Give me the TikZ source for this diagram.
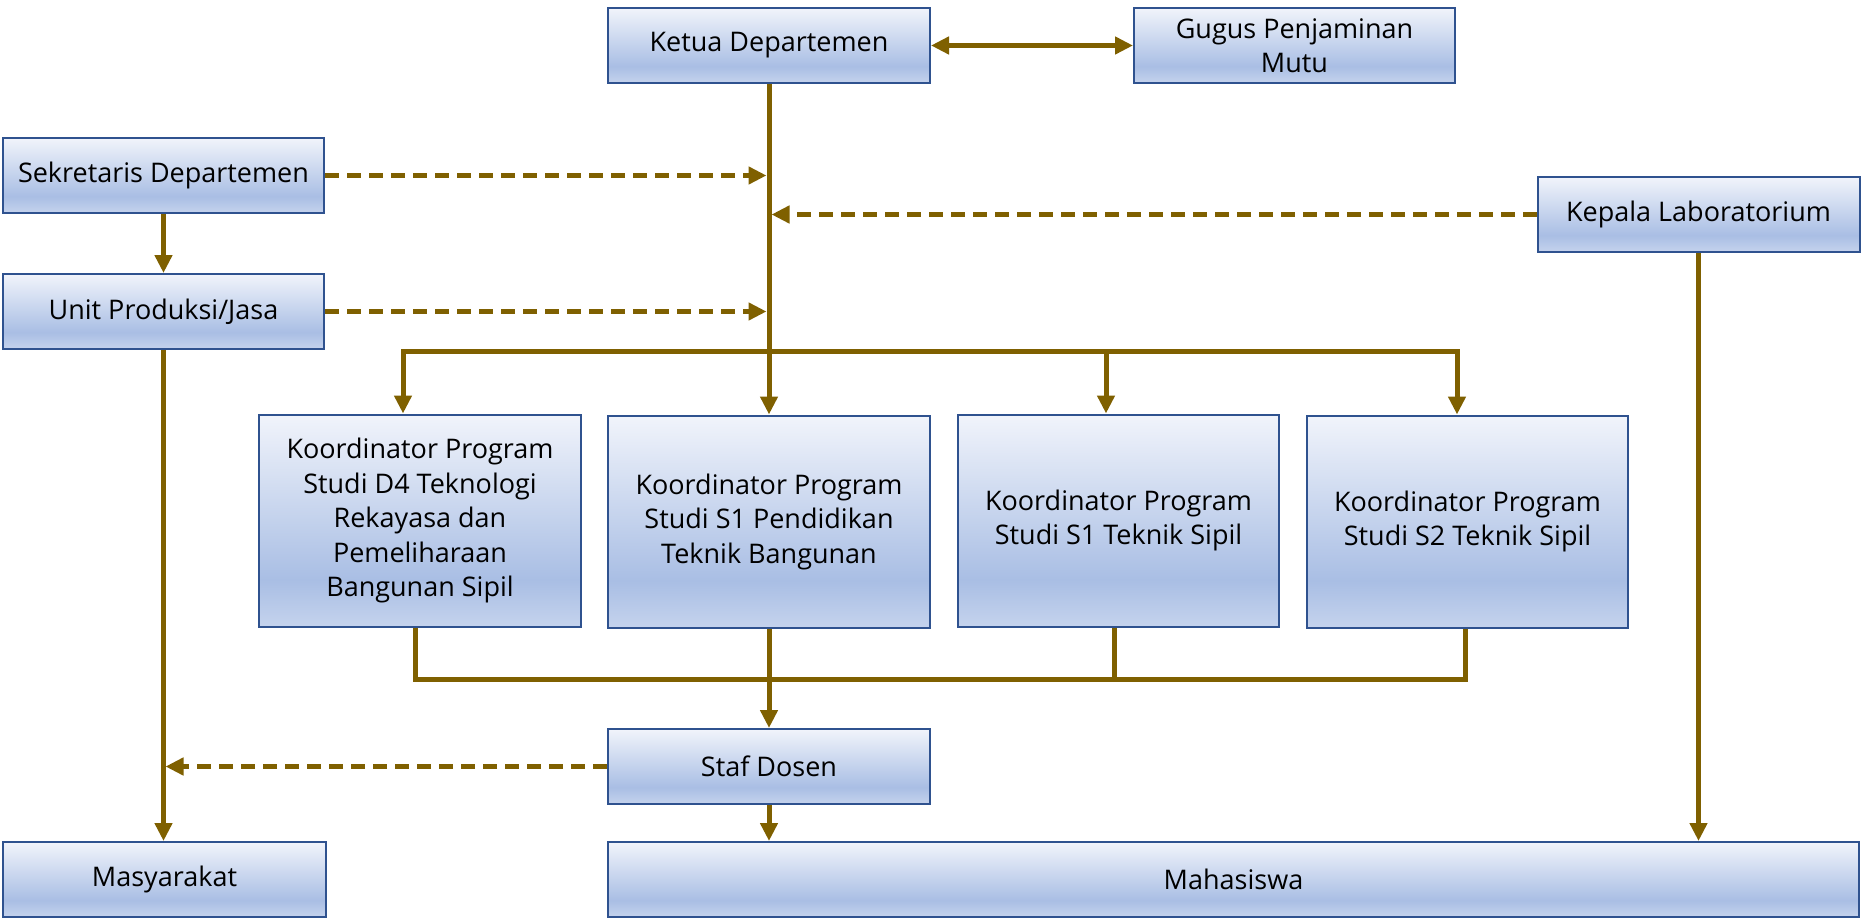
\documentclass[tikz,border=0pt]{standalone}
\usepackage{fontspec}
\setmainfont{Open Sans}
\usetikzlibrary{arrows.meta}
\definecolor{conn}{HTML}{7F6000}
\definecolor{bord}{HTML}{2F528F}
\definecolor{shT}{HTML}{F1F4FB}
\definecolor{shM}{HTML}{A9BEE4}
\definecolor{shB}{HTML}{C5D3ED}
\pgfdeclareverticalshading{boxshade}{100bp}{color(0bp)=(shB); color(25bp)=(shB); color(36bp)=(shM); color(75bp)=(shT); color(100bp)=(shT)}
\tikzset{
  orgbox/.style={draw=bord, line width=2pt, shading=boxshade, rectangle,
    inner sep=0pt, align=center, font=\fontsize{27}{34.5}\selectfont},
  conline/.style={draw=conn, line width=5pt},
  arr/.style={conline, -{Triangle[length=18pt,width=17pt]}},
  dblarr/.style={conline, {Triangle[length=18pt,width=17pt]}-{Triangle[length=18pt,width=17pt]}},
  dasharr/.style={conline, dash pattern=on 14pt off 8pt, -{Triangle[length=18pt,width=17pt]}},
}
\begin{document}
\begin{tikzpicture}[x=1pt,y=-1pt]
\useasboundingbox (0,0) rectangle (1862,920);
% boxes
\node[orgbox, minimum width=322pt, minimum height=75pt] (ketua) at (769,45.5) {Ketua Departemen};
\node[orgbox, minimum width=321pt, minimum height=75pt] (gugus) at (1294.5,45.5) {Gugus Penjaminan\\Mutu};
\node[orgbox, minimum width=321pt, minimum height=75pt] (sekr) at (163.5,175.5) {Sekretaris Departemen};
\node[orgbox, minimum width=321pt, minimum height=75pt] (unit) at (163.5,311.5) {Unit Produksi/Jasa};
\node[orgbox, minimum width=322pt, minimum height=75pt] (kepala) at (1698.5,214.5) {Kepala Laboratorium};
\node[orgbox, minimum width=322pt, minimum height=212pt] (d4) at (420,520.5) {Koordinator Program\\Studi D4 Teknologi\\Rekayasa dan\\Pemeliharaan\\Bangunan Sipil};
\node[orgbox, minimum width=322pt, minimum height=212pt] (s1p) at (769,521.5) {Koordinator Program\\Studi S1 Pendidikan\\Teknik Bangunan};
\node[orgbox, minimum width=321pt, minimum height=212pt] (s1ts) at (1118.5,520.5) {Koordinator Program\\Studi S1 Teknik Sipil};
\node[orgbox, minimum width=321pt, minimum height=212pt] (s2) at (1467.5,521.5) {Koordinator Program\\Studi S2 Teknik Sipil};
\node[orgbox, minimum width=322pt, minimum height=75pt] (staf) at (769,766.5) {Staf Dosen};
\node[orgbox, minimum width=323pt, minimum height=75pt] (masy) at (164.5,879.5) {Masyarakat};
\node[orgbox, minimum width=1251pt, minimum height=75pt] (maha) at (1233.5,879.5) {Mahasiswa};
% bus coordinates
\coordinate (b1) at (403,351);
\coordinate (b3) at (1106,351);
\coordinate (b4) at (1457,351);
\coordinate (l1) at (415,679);
\coordinate (l3) at (1114,679);
\coordinate (l4) at (1465,679);
% connectors
\draw[dblarr] (ketua.east) -- (gugus.west);
\draw[arr] (ketua.south) -- (s1p.north);
\draw[dasharr, shorten >=2.5pt] (sekr.east) -- (sekr.east -| ketua.south);
\draw[dasharr, shorten >=2.5pt] (unit.east) -- (unit.east -| ketua.south);
\draw[dasharr, shorten >=2.5pt] (kepala.west) -- (kepala.west -| ketua.south);
\draw[dblarr] (d4.north -| b1) -- (b1) -- (b4) -- (s2.north -| b4);
\draw[arr] (b3) -- (s1ts.north -| b3);
\draw[conline] (d4.south -| l1) -- (l1) -- (l4) -- (s2.south -| l4);
\draw[conline] (s1ts.south -| l3) -- (l3);
\draw[arr] (s1p.south) -- (staf.north);
\draw[arr] (sekr.south) -- (unit.north);
\draw[arr, line width=4.5pt] (unit.south) -- (unit.south |- masy.north);
\draw[dasharr, shorten >=2pt] (staf.west) -- (staf.west -| unit.south);
\draw[arr] (staf.south) -- (staf.south |- maha.north);
\draw[arr] (kepala.south) -- (kepala.south |- maha.north);
\end{tikzpicture}
\end{document}
